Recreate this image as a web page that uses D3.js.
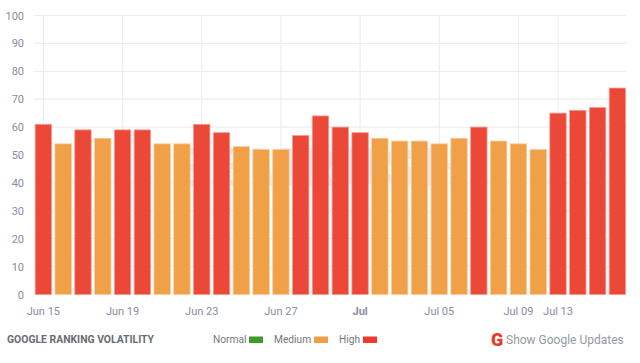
<!DOCTYPE html>
<html>
<head>
<meta charset="utf-8">
<script src="https://cdnjs.cloudflare.com/ajax/libs/d3/7.8.5/d3.min.js"></script>
<style>
	html, body { margin: 0; padding: 0; background: #fff; }
	svg { display: block; font-family: Roboto, sans-serif; }
	.grid line { stroke: #eeeeef; stroke-width: 1.2; }
	.axis text { fill: #8b8ba3; }
	.axis path, .axis line { display: none; }
</style>
</head>
<body>
<div id="chart"></div>
<script>
// Data
const days = [
	"Jun 15", "Jun 16", "Jun 17", "Jun 18", "Jun 19", "Jun 20", "Jun 21", "Jun 22", "Jun 23", "Jun 24",
	"Jun 25", "Jun 26", "Jun 27", "Jun 28", "Jun 29", "Jun 30", "Jul", "Jul 02", "Jul 03", "Jul 04",
	"Jul 05", "Jul 06", "Jul 07", "Jul 08", "Jul 09", "Jul 10", "Jul 13", "Jul 14", "Jul 15", "Jul 16"
];
const volatility = [
	61, 54, 59, 56, 59, 59, 54, 54, 61, 58,
	53, 52, 52, 57, 64, 60, 58, 56, 55, 55,
	54, 56, 60, 55, 54, 52, 65, 66, 67, 74
];
const dayTicks = ["Jun 15", "Jun 19", "Jun 23", "Jun 27", "Jul", "Jul 05", "Jul 09", "Jul 13"];
const valueTicks = [0, 10, 20, 30, 40, 50, 60, 70, 80, 90, 100];
const legendNames = ["Normal", "Medium", "High"];
const legendColors = ["#3f9a2c", "#f0a044", "#ee3a2c"];

const width = 640, height = 363;
const margin = { top: 15.5, right: 13, bottom: 68.5, left: 34 };

const levelColor = (v) => (v >= 57 ? "#ec4838" : "#f0a046");
const levelStroke = (v) => (v >= 57 ? "#f79a90" : "#f8cd9a");

const svg = d3.select("#chart").append("svg")
	.attr("width", width).attr("height", height);

const scaleX = d3.scaleBand(days, [35.2, 625.6]).paddingInner(0.172).paddingOuter(0);
const scaleY = d3.scaleLinear([0, 100], [height - margin.bottom, margin.top]);
const center = (d) => scaleX(d) + scaleX.bandwidth() / 2;

// Grid
const grid = svg.append("g").classed("grid", true);
grid.selectAll("line.h").data(valueTicks.slice(1))
	.join("line").classed("h", true)
	.attr("x1", margin.left).attr("x2", width - margin.right)
	.attr("y1", (d) => scaleY(d)).attr("y2", (d) => scaleY(d));
grid.selectAll("line.v").data(dayTicks)
	.join("line").classed("v", true)
	.attr("x1", center).attr("x2", center)
	.attr("y1", margin.top).attr("y2", height - margin.bottom);

// Faint watermark behind the bars
svg.append("text")
	.attr("x", 320).attr("y", 186)
	.attr("text-anchor", "middle")
	.style("font-size", "54px").style("font-weight", 700).style("letter-spacing", "6px")
	.style("fill", "#e9eaf2")
	.text("SEMRUSH");

// Bars
svg.append("g").selectAll("rect").data(volatility)
	.join("rect")
	.attr("x", (d, i) => scaleX(days[i]))
	.attr("y", (d) => scaleY(d))
	.attr("width", scaleX.bandwidth())
	.attr("height", (d) => scaleY(0) - scaleY(d))
	.attr("fill", levelColor)
	.attr("stroke", levelStroke)
	.attr("stroke-width", 0.8);

// Axes
const axisY = d3.axisLeft(scaleY).tickValues(valueTicks).tickSize(0).tickPadding(10);
svg.append("g").classed("axis", true)
	.attr("transform", `translate(${margin.left}, 0)`)
	.style("font-size", "11px").style("font-family", "Roboto, sans-serif")
	.call(axisY);

const axisX = d3.axisBottom(scaleX).tickValues(dayTicks).tickSize(0).tickPadding(13);
const axisXG = svg.append("g").classed("axis", true)
	.attr("transform", `translate(0, ${height - margin.bottom})`)
	.style("font-size", "11px").style("font-family", "Roboto, sans-serif")
	.call(axisX);
axisXG.selectAll("text").filter((d) => d === "Jul").style("font-weight", 700);

// Footer
svg.append("text")
	.attr("x", 7).attr("y", 343)
	.style("font-size", "10.4px").style("font-weight", 700).style("fill", "#6b6b72")
	.text("GOOGLE RANKING VOLATILITY");

const legendX = [213, 274, 339];
const legendSwatchX = [249, 314, 363];
const legend = svg.append("g");
legend.selectAll("text").data(legendNames)
	.join("text")
	.attr("x", (d, i) => legendX[i]).attr("y", 343)
	.style("font-size", "10.2px").style("fill", "#75757c")
	.text((d) => d);
legend.selectAll("rect").data(legendColors)
	.join("rect")
	.attr("x", (d, i) => legendSwatchX[i]).attr("y", 336.5)
	.attr("width", 14).attr("height", 6.5)
	.attr("fill", (d) => d);

svg.append("text")
	.attr("x", 491).attr("y", 345.5)
	.style("font-size", "18px").style("font-weight", 900).style("fill", "#ea3a2a")
	.text("G");
svg.append("text")
	.attr("x", 506).attr("y", 344)
	.style("font-size", "12px").style("fill", "#959aa3")
	.text("Show Google Updates");
</script>
</body>
</html>
